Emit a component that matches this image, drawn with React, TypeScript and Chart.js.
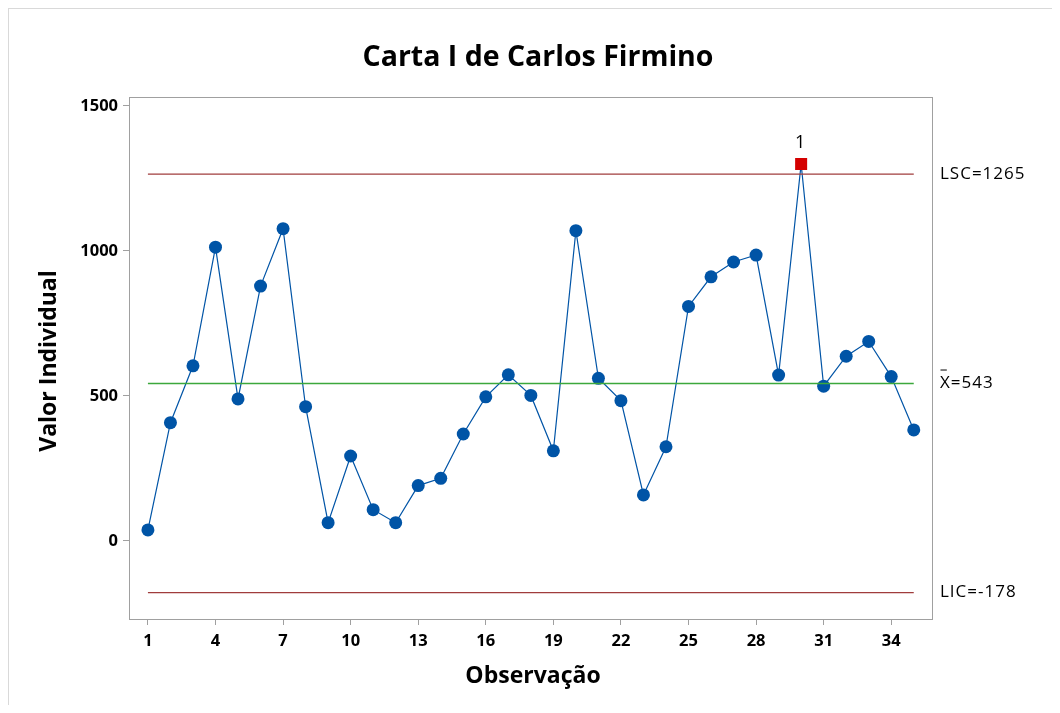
import React, { useEffect, useRef } from "react";
import { Chart, registerables } from "chart.js";

Chart.register(...registerables);

const observations = [1, 2, 3, 4, 5, 6, 7, 8, 9, 10, 11, 12, 13, 14, 15, 16, 17, 18, 19, 20, 21, 22, 23, 24, 25, 26, 27, 28, 29, 30, 31, 32, 33, 34, 35];
const values = [38, 408, 604, 1013, 490, 879, 1077, 463, 63, 293, 108, 63, 191, 216, 369, 497, 573, 502, 311, 1070, 561, 484, 159, 325, 809, 911, 962, 986, 572, 1300, 534, 637, 688, 567, 383];
const outOfControl = [30];
const outLabels = ["1"];
const LSC = 1265;
const MEAN = 543;
const LIC = -178;
const xTicks = [1, 4, 7, 10, 13, 16, 19, 22, 25, 28, 31, 34];
const yTicks = [0, 500, 1000, 1500];

const TITLE = "Carta I de Carlos Firmino";
const X_TITLE = "Observação";
const Y_TITLE = "Valor Individual";

const FONT = "'Open Sans', 'Noto Sans', sans-serif";
const BLUE = "#0054A6";
const RED_LINE = "#A03C3C";
const GREEN = "#3CA83C";
const AXIS = "#A0A0A0";

export default function App() {
  const ref = useRef<HTMLCanvasElement | null>(null);

  useEffect(() => {
    const canvas = ref.current;
    if (!canvas) return;

    const decorate = {
      id: "decorate",
      afterDraw(chart: any) {
        const ctx = chart.ctx;
        const a = chart.chartArea;
        const xs = chart.scales.x;
        const ys = chart.scales.y;
        ctx.save();
        // outer light border
        ctx.strokeStyle = "#D9D9D9";
        ctx.lineWidth = 2;
        ctx.beginPath();
        ctx.moveTo(0, chart.height);
        ctx.lineTo(0, 0);
        ctx.lineTo(chart.width, 0);
        ctx.stroke();
        // plot frame
        ctx.strokeStyle = AXIS;
        ctx.lineWidth = 1;
        ctx.strokeRect(Math.round(a.left) + 0.5, Math.round(a.top) + 0.5, Math.round(a.right - a.left), Math.round(a.bottom - a.top));
        // titles
        ctx.fillStyle = "#000";
        ctx.textAlign = "center";
        ctx.textBaseline = "middle";
        ctx.font = `bold 28.5px ${FONT}`;
        ctx.fillText(TITLE, 530, 50);
        ctx.font = `bold 23px ${FONT}`;
        ctx.fillText(X_TITLE, 525, 668);
        ctx.save();
        ctx.translate(41, 353);
        ctx.rotate(-Math.PI / 2);
        ctx.fillText(Y_TITLE, 0, 0);
        ctx.restore();
        // control limit labels
        ctx.font = `17px ${FONT}`;
        ctx.textAlign = "left";
        ctx.fillStyle = "#000";
        try {
          (ctx as any).letterSpacing = "1px";
        } catch (e) {}
        const tx = a.right + 8;
        ctx.fillText(`LSC=${LSC}`, tx, ys.getPixelForValue(LSC));
        ctx.fillText(`LIC=${LIC}`, tx, ys.getPixelForValue(LIC));
        const my = ys.getPixelForValue(MEAN);
        ctx.fillText(`X=${MEAN}`, tx, my);
        const xw = ctx.measureText("X").width;
        ctx.strokeStyle = "#000";
        ctx.lineWidth = 1;
        ctx.beginPath();
        ctx.moveTo(tx + 0.5, my - 13.5);
        ctx.lineTo(tx + xw - 4, my - 13.5);
        ctx.stroke();
        try {
          (ctx as any).letterSpacing = "0px";
        } catch (e) {}
        // out-of-control labels
        ctx.textAlign = "center";
        ctx.font = `18px ${FONT}`;
        outOfControl.forEach((obs, i) => {
          const v = values[obs - 1];
          ctx.fillText(outLabels[i], xs.getPixelForValue(obs) - 1, ys.getPixelForValue(v) - 21);
        });
        ctx.restore();
      },
    };

    const pointColors = observations.map((o) => (outOfControl.includes(o) ? "#D40000" : BLUE));
    const pointStyles = observations.map((o) => (outOfControl.includes(o) ? "rect" : "circle"));
    const pointRadii = observations.map((o) => (outOfControl.includes(o) ? 8.5 : 6.5));

    const first = observations[0];
    const last = observations[observations.length - 1];

    const chart = new Chart(canvas, {
      type: "line",
      data: {
        datasets: [
          {
            label: "LSC",
            data: [{ x: first, y: LSC }, { x: last, y: LSC }],
            borderColor: RED_LINE,
            borderWidth: 1.3,
            pointRadius: 0,
          },
          {
            label: "LIC",
            data: [{ x: first, y: LIC }, { x: last, y: LIC }],
            borderColor: RED_LINE,
            borderWidth: 1.3,
            pointRadius: 0,
          },
          {
            label: "Média",
            data: [{ x: first, y: MEAN }, { x: last, y: MEAN }],
            borderColor: GREEN,
            backgroundColor: GREEN,
            borderWidth: 1.5,
            pointRadius: 0,
          },
          {
            label: "Valor",
            data: observations.map((o, i) => ({ x: o, y: values[i] })),
            borderColor: BLUE,
            borderWidth: 1.2,
            pointBackgroundColor: pointColors,
            pointBorderColor: pointColors,
            pointBorderWidth: 0,
            pointStyle: pointStyles as any,
            pointRadius: pointRadii,
            tension: 0,
          },
        ],
      },
      options: {
        animation: false,
        responsive: false,
        maintainAspectRatio: false,
        events: [],
        layout: { padding: { top: 89, right: 120, left: 0, bottom: 0 } },
        plugins: {
          legend: { display: false },
          title: { display: false },
          tooltip: { enabled: false },
        },
        scales: {
          x: {
            type: "linear",
            min: 0.16,
            max: 35.81,
            afterBuildTicks: (s: any) => {
              s.ticks = xTicks.map((v) => ({ value: v }));
            },
            afterFit: (s: any) => {
              s.height = 86;
            },
            grid: { drawOnChartArea: false, color: AXIS, tickLength: 6 },
            border: { color: AXIS },
            ticks: {
              color: "#000",
              font: { family: FONT, size: 16.5, weight: "bold" },
              padding: 6,
              maxRotation: 0,
              autoSkip: false,
              callback: (v: any) => String(v),
            },
          },
          y: {
            type: "linear",
            min: -269,
            max: 1531,
            afterBuildTicks: (s: any) => {
              s.ticks = yTicks.map((v) => ({ value: v }));
            },
            afterFit: (s: any) => {
              s.width = 121;
            },
            grid: { drawOnChartArea: false, color: AXIS, tickLength: 6 },
            border: { color: AXIS },
            ticks: {
              color: "#000",
              font: { family: FONT, size: 16.5, weight: "bold" },
              padding: 5,
              callback: (v: any) => String(v),
            },
          },
        },
      },
      plugins: [decorate],
    });

    return () => chart.destroy();
  }, []);

  return (
    <div style={{ width: 1044, height: 697 }}>
      <canvas ref={ref} width={1044} height={697} style={{ display: "block" }} />
    </div>
  );
}
